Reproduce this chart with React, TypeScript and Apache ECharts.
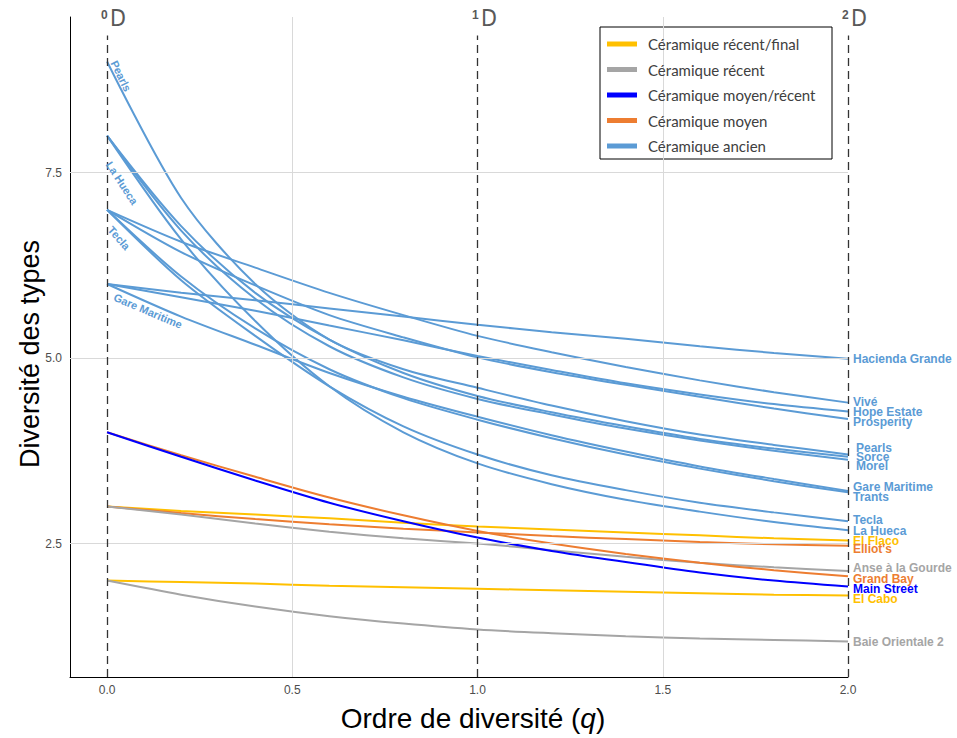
import React, { useEffect, useRef } from "react";
import * as echarts from "echarts";

// q values at which the diversity profiles are read
const Q = [0, 0.2, 0.4, 0.6, 0.8, 1.0, 1.2, 1.4, 1.6, 1.8, 2.0];

// Céramique ancien
const hacienda = [6, 5.88, 5.78, 5.67, 5.56, 5.45, 5.35, 5.26, 5.16, 5.07, 4.99];
const vive = [7, 6.57, 6.22, 5.88, 5.58, 5.3, 5.08, 4.88, 4.7, 4.54, 4.4];
const hopeEstate = [6, 5.82, 5.64, 5.44, 5.24, 5.03, 4.84, 4.66, 4.51, 4.38, 4.28];
const prosperity = [7, 6.43, 5.98, 5.58, 5.28, 5.01, 4.81, 4.64, 4.48, 4.32, 4.18];
const pearls = [9, 7.16, 6.0, 5.25, 4.85, 4.6, 4.36, 4.15, 3.97, 3.83, 3.7];
const sorce = [8, 6.78, 5.88, 5.25, 4.8, 4.49, 4.27, 4.08, 3.91, 3.78, 3.67];
const morel = [8, 6.72, 5.8, 5.16, 4.74, 4.45, 4.24, 4.05, 3.89, 3.75, 3.63];
const gareMaritime = [6, 5.56, 5.18, 4.8, 4.48, 4.21, 3.96, 3.74, 3.54, 3.37, 3.21];
const trants = [7, 6.1, 5.4, 4.85, 4.46, 4.17, 3.92, 3.7, 3.51, 3.34, 3.19];
const tecla = [7, 6.05, 5.3, 4.62, 4.08, 3.7, 3.42, 3.22, 3.05, 2.92, 2.8];
const laHueca = [8, 6.6, 5.5, 4.62, 4.0, 3.58, 3.3, 3.09, 2.93, 2.79, 2.68];
// Céramique moyen/récent
const mainStreet = [4, 3.67, 3.35, 3.05, 2.8, 2.58, 2.4, 2.25, 2.11, 2.0, 1.92];
// Céramique moyen
const grandBay = [4, 3.69, 3.4, 3.12, 2.88, 2.67, 2.5, 2.36, 2.24, 2.14, 2.06];
const elliots = [3, 2.91, 2.83, 2.76, 2.7, 2.65, 2.6, 2.56, 2.52, 2.49, 2.47];
// Céramique récent/final
const elFlaco = [3, 2.94, 2.89, 2.84, 2.78, 2.73, 2.69, 2.65, 2.61, 2.57, 2.54];
const elCabo = [2, 1.98, 1.96, 1.93, 1.91, 1.89, 1.87, 1.85, 1.83, 1.81, 1.8];
// Céramique récent
const anse = [3, 2.89, 2.77, 2.66, 2.57, 2.5, 2.41, 2.32, 2.24, 2.18, 2.13];
const baieOrientale = [2, 1.81, 1.65, 1.52, 1.42, 1.34, 1.29, 1.25, 1.22, 1.2, 1.18];

const groups = [
  "Céramique récent/final",
  "Céramique récent",
  "Céramique moyen/récent",
  "Céramique moyen",
  "Céramique ancien",
];
const groupColors: Record<string, string> = {
  "Céramique récent/final": "#FFC000",
  "Céramique récent": "#A5A5A5",
  "Céramique moyen/récent": "#0000FF",
  "Céramique moyen": "#ED7D31",
  "Céramique ancien": "#5B9BD5",
};

const xTicks = [0, 0.5, 1, 1.5, 2];
const yTicks = [2.5, 5, 7.5];
const hillOrders = [0, 1, 2];

type Site = { name: string; group: string; values: number[]; dx: number; dy: number };
const sites: Site[] = [
  { name: "Hacienda Grande", group: "Céramique ancien", values: hacienda, dx: 0, dy: 0 },
  { name: "Vivé", group: "Céramique ancien", values: vive, dx: 0, dy: -1 },
  { name: "Hope Estate", group: "Céramique ancien", values: hopeEstate, dx: 0, dy: 0 },
  { name: "Prosperity", group: "Céramique ancien", values: prosperity, dx: 0, dy: 3 },
  { name: "Pearls", group: "Céramique ancien", values: pearls, dx: 3, dy: -7 },
  { name: "Sorce", group: "Céramique ancien", values: sorce, dx: 3, dy: 0.5 },
  { name: "Morel", group: "Céramique ancien", values: morel, dx: 3, dy: 6 },
  { name: "Gare Maritime", group: "Céramique ancien", values: gareMaritime, dx: 0, dy: -3.5 },
  { name: "Trants", group: "Céramique ancien", values: trants, dx: 0, dy: 5 },
  { name: "Tecla", group: "Céramique ancien", values: tecla, dx: 0, dy: -1.3 },
  { name: "La Hueca", group: "Céramique ancien", values: laHueca, dx: 0, dy: 0.8 },
  { name: "El Flaco", group: "Céramique récent/final", values: elFlaco, dx: 0, dy: 0 },
  { name: "Elliot's", group: "Céramique moyen", values: elliots, dx: 0, dy: 3.5 },
  { name: "Anse à la Gourde", group: "Céramique récent", values: anse, dx: 0, dy: -2.7 },
  { name: "Grand Bay", group: "Céramique moyen", values: grandBay, dx: 0, dy: 2.8 },
  { name: "Main Street", group: "Céramique moyen/récent", values: mainStreet, dx: 0, dy: 2.4 },
  { name: "El Cabo", group: "Céramique récent/final", values: elCabo, dx: 0, dy: 3.5 },
  { name: "Baie Orientale 2", group: "Céramique récent", values: baieOrientale, dx: 0, dy: 0.8 },
];

export default function App() {
  const ref = useRef<HTMLDivElement>(null);
  useEffect(() => {
    if (!ref.current) return;
    const chart = echarts.init(ref.current, undefined, { renderer: "svg" });

    const siteSeries = sites.map((s) => ({
      type: "line",
      name: s.name,
      data: Q.map((q, i) => [q, s.values[i]]),
      smooth: 0.3,
      showSymbol: false,
      symbol: "none",
      clip: false,
      z: 3,
      lineStyle: { color: groupColors[s.group], width: 2 },
      itemStyle: { color: groupColors[s.group] },
      emphasis: { disabled: true },
      endLabel: {
        show: true,
        formatter: s.name,
        color: groupColors[s.group],
        fontFamily: "Liberation Sans, Arial, sans-serif",
        fontWeight: "bold",
        fontSize: 12,
        distance: 5,
        offset: [s.dx, s.dy],
      },
    }));

    const groupSeries = groups.map((g) => ({
      type: "line",
      name: g,
      data: [],
      lineStyle: { color: groupColors[g] },
      itemStyle: { color: groupColors[g] },
    }));

    const gridSeries = {
      type: "line",
      name: "__grid",
      data: [],
      z: 1,
      silent: true,
      markLine: {
        silent: true,
        symbol: "none",
        animation: false,
        label: { show: false },
        lineStyle: { color: "#D9D9D9", width: 1, type: "solid" },
        data: [
          ...yTicks.map((v) => ({ yAxis: v })),
          { xAxis: 0.5 },
          { xAxis: 1.5 },
        ],
      },
    };

    const dashSeries = {
      type: "line",
      name: "__dash",
      data: [],
      z: 4,
      silent: true,
      markLine: {
        silent: true,
        symbol: "none",
        animation: false,
        label: { show: false },
        lineStyle: { color: "#333333", width: 1.3, type: [8, 5] },
        data: hillOrders.map((q) => [{ coord: [q, 0.7] }, { coord: [q, 9.35] }]),
      },
    };

    const option: any = {
      animation: false,
      backgroundColor: "#ffffff",
      grid: { left: 70, right: 109, top: 17, bottom: 61 },
      xAxis: {
        type: "value",
        min: -0.1,
        max: 2,
        axisLine: { show: true, onZero: false, lineStyle: { color: "#000", width: 1 } },
        axisTick: { show: false },
        splitLine: { show: false },
        axisLabel: {
          customValues: xTicks,
          formatter: (v: number) => v.toFixed(1),
          color: "#4D4D4D",
          fontSize: 12,
          margin: 7,
          fontFamily: "Liberation Sans Narrow, Liberation Sans, Arial, sans-serif",
        },
      },
      yAxis: {
        type: "value",
        min: 0.7,
        max: 9.6,
        axisLine: { show: true, onZero: false, lineStyle: { color: "#000", width: 1 } },
        axisTick: { show: false },
        splitLine: { show: false },
        axisLabel: {
          customValues: yTicks,
          formatter: (v: number) => v.toFixed(1),
          color: "#4D4D4D",
          fontSize: 12,
          margin: 8,
          fontFamily: "Liberation Sans Narrow, Liberation Sans, Arial, sans-serif",
        },
      },
      legend: {
        data: groups.map((g) => ({ name: g, itemStyle: { color: groupColors[g] } })),
        orient: "vertical",
        left: 607,
        top: 36,
        itemWidth: 30,
        itemHeight: 5,
        itemGap: 9.5,
        icon: "rect",
        padding: 0,
        z: 10,
        selectedMode: false,
        textStyle: {
          fontFamily: "Lato, Open Sans, sans-serif",
          fontSize: 15,
          color: "#404040",
          lineHeight: 16,
          padding: [0, 0, 0, 6],
        },
      },
      graphic: [
        {
          type: "rect",
          z: 5,
          shape: { x: 600, y: 27, width: 232, height: 132 },
          style: { fill: "#ffffff", stroke: "#000000", lineWidth: 1 },
        },
        {
          type: "text",
          x: 30,
          y: 354,
          rotation: Math.PI / 2,
          style: {
            text: "Diversité des types",
            fill: "#000",
            font: '27px "Liberation Sans", Arial, sans-serif',
            align: "center",
            verticalAlign: "middle",
          },
        },
        {
          type: "text",
          x: 473,
          y: 718,
          style: {
            text: "Ordre de diversité ({i|q})",
            fill: "#000",
            font: '28px "Liberation Sans", Arial, sans-serif',
            align: "center",
            verticalAlign: "middle",
            rich: {
              i: {
                fontStyle: "italic",
                fontSize: 28,
                fontFamily: "Liberation Sans, Arial, sans-serif",
                fill: "#000",
              },
            },
          },
        },
        ...[
          { x: 107, t: "0" },
          { x: 478, t: "1" },
          { x: 848, t: "2" },
        ].flatMap((d) => [
          {
            type: "text",
            x: d.x - 6,
            y: 9,
            style: {
              text: d.t,
              fill: "#595959",
              font: 'bold 12px "Liberation Sans", Arial, sans-serif',
              align: "left",
              verticalAlign: "top",
            },
          },
          {
            type: "text",
            x: d.x + 3,
            y: 18,
            style: {
              text: "D",
              fill: "#595959",
              font: '23px "Liberation Sans Narrow", "DejaVu Sans Condensed", sans-serif',
              align: "left",
              verticalAlign: "middle",
            },
          },
        ]),
        ...[
          { t: "Pearls", x: 121, y: 76, a: 64 },
          { t: "La Hueca", x: 122, y: 183, a: 57 },
          { t: "Tecla", x: 119, y: 238, a: 49 },
          { t: "Gare Maritime", x: 148, y: 311, a: 23 },
        ].map((d) => ({
          type: "text",
          x: d.x,
          y: d.y,
          rotation: (-d.a * Math.PI) / 180,
          z: 6,
          style: {
            text: d.t,
            fill: "#5B9BD5",
            font: 'bold 11px "Liberation Sans", Arial, sans-serif',
            align: "center",
            verticalAlign: "middle",
          },
        })),
      ],
      series: [gridSeries, ...siteSeries, ...groupSeries, dashSeries],
    };

    chart.setOption(option);
    return () => chart.dispose();
  }, []);

  return (
    <div
      ref={ref}
      style={{ position: "fixed", left: 0, top: 0, width: 957, height: 738, background: "#fff" }}
    />
  );
}
